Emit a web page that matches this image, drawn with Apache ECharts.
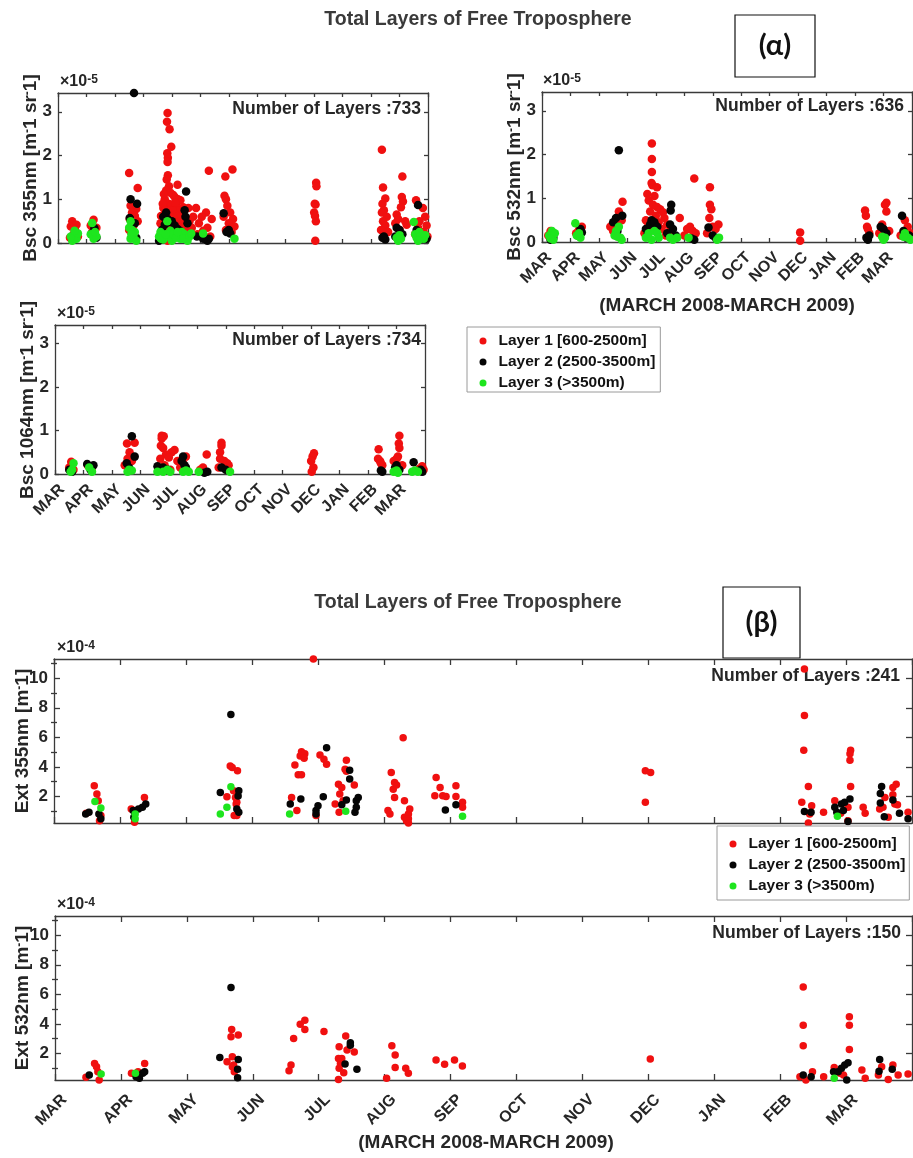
<!DOCTYPE html>
<html>
<head>
<meta charset="utf-8">
<script src="https://cdn.jsdelivr.net/npm/echarts@6/dist/echarts.min.js"></script>
<style>
  html, body { margin: 0; padding: 0; background: #ffffff; }
  #chart { width: 913px; height: 1158px; }
</style>
</head>
<body>
<div id="chart"></div>
<script>
// Month ticks: 0 = start of March 2008 ... 13 = start of April 2009
const months = ['MAR', 'APR', 'MAY', 'JUN', 'JUL', 'AUG', 'SEP', 'OCT', 'NOV', 'DEC', 'JAN', 'FEB', 'MAR'];
const layerNames = ['Layer 1 [600-2500m]', 'Layer 2 (2500-3500m]', 'Layer 3 (>3500m)'];
const layerColors = ['#f01010', '#050505', '#1ee51e'];

// Backscatter, units of 1e-5 m^-1 sr^-1 ; x in months since 1 March 2008
const bsc355Layer1 = [[0.5,0.5],[0.45,0.38],[0.6,0.3],[0.55,0.2],[0.42,0.12],[0.7,0.15],[0.65,0.42],
  [1.25,0.53],[1.15,0.4],[1.35,0.35],[1.2,0.25],[1.3,0.15],
  [2.5,1.6],[2.8,1.26],[2.55,0.85],[2.75,0.78],[2.6,0.7],[2.7,0.62],[2.52,0.55],[2.8,0.5],[2.65,0.4],[2.5,0.3],
  [3.85,2.97],[3.83,2.77],[3.92,2.6],[3.98,2.2],[3.84,2.05],[3.86,1.95],[3.85,1.85],[3.86,1.55],[3.82,1.45],[3.9,1.3],
  [3.8,1.2],[4.2,1.33],[3.95,1.15],[4.05,1.1],[3.75,1.0],[4.1,1.05],[4.3,0.98],[3.88,0.9],[4.0,0.88],[4.15,0.85],
  [4.4,0.82],[3.7,0.8],[4.25,0.75],[3.95,0.72],[4.1,0.65],[4.35,0.6],[3.78,0.6],[4.45,0.55],[4.0,0.5],[3.6,0.45],
  [4.2,0.42],[3.9,0.35],[4.3,0.3],[3.65,0.25],[4.05,0.2],[3.85,0.05],[4.4,0.15],[3.72,1.12],[4.22,1.0],[4.5,0.4],
  [3.62,0.62],[3.68,0.9],[3.76,0.75],[3.92,0.62],[4.02,0.75],[4.08,0.3],[4.12,0.92],[4.18,0.6],[4.28,0.5],
  [4.38,0.4],[4.48,0.28],[4.58,0.8],[4.62,0.5],[4.7,0.35],[4.75,0.6],
  [5.3,1.65],[4.85,0.8],[5.2,0.7],[5.4,0.55],[5.05,0.6],[4.95,0.45],[5.25,0.35],[5.1,0.28],[4.9,0.2],[5.35,0.15],
  [6.13,1.68],[5.88,1.52],[5.85,1.08],[5.9,1.0],[5.95,0.85],[6.05,0.7],[5.82,0.6],[6.15,0.55],[6.0,0.45],[6.2,0.38],[5.9,0.3],[6.1,0.25],
  [9.07,1.38],[9.08,1.3],[9.02,0.9],[9.05,0.88],[9.0,0.7],[9.03,0.62],[9.06,0.5],[9.04,0.05],
  [11.38,2.13],[11.42,1.27],[11.5,1.02],[11.4,0.9],[11.45,0.75],[11.38,0.7],[11.55,0.6],[11.42,0.5],[11.5,0.4],[11.35,0.3],[11.6,0.25],[11.45,0.12],
  [12.1,1.52],[12.08,1.05],[12.12,0.95],[12.05,0.82],[11.9,0.65],[12.2,0.5],[11.85,0.45],[12.25,0.42],[12.0,0.3],[11.95,0.55],
  [12.58,0.98],[12.82,0.8],[12.9,0.6],[12.7,0.5],[12.95,0.4],[12.65,0.35],[12.85,0.25],[12.55,0.2],[12.98,0.15]];
const bsc355Layer2 = [[0.55,0.1],[0.62,0.15],[1.28,0.34],[1.2,0.22],[1.35,0.12],[2.67,3.43],[2.55,1.0],[2.78,0.9],
  [2.52,0.57],[2.7,0.45],[2.6,0.2],[2.75,0.12],[3.55,0.05],[3.7,0.6],[3.8,0.7],[3.85,0.55],[3.9,0.48],[3.75,0.42],
  [4.0,0.5],[4.1,0.4],[4.2,0.32],[4.28,0.28],[4.5,1.18],[4.45,0.75],[4.48,0.6],[4.55,0.45],[3.65,0.3],[4.35,0.22],
  [4.0,0.18],[4.88,0.15],[5.25,0.05],[5.3,0.1],[5.1,0.1],[5.82,0.68],[6.0,0.3],[6.05,0.22],[5.92,0.25],[11.45,0.15],
  [11.5,0.08],[11.4,0.12],[11.9,0.35],[12.0,0.3],[12.1,0.2],[11.85,0.15],[12.65,0.87],[12.6,0.3],[12.7,0.18],[12.95,0.1],[12.85,0.1]];
const bsc355Layer3 = [[0.5,0.05],[0.55,0.12],[0.6,0.2],[0.65,0.1],[0.45,0.15],[0.7,0.22],[0.58,0.28],[1.2,0.46],
  [1.15,0.2],[1.25,0.1],[1.35,0.15],[1.3,0.25],[2.55,0.5],[2.5,0.35],[2.6,0.3],[2.65,0.15],[2.7,0.25],[2.55,0.1],
  [2.75,0.05],[2.58,0.2],[3.55,0.15],[3.6,0.25],[3.84,0.5],[3.9,0.15],[3.7,0.08],[3.95,0.28],[4.0,0.05],[4.05,0.2],
  [4.25,0.15],[4.3,0.1],[4.35,0.25],[4.45,0.2],[4.5,0.15],[4.55,0.05],[5.1,0.22],[6.2,0.1],[11.9,0.12],[11.95,0.05],
  [3.62,0.1],[3.78,0.2],[4.15,0.12],[4.2,0.25],[4.4,0.1],[4.62,0.15],[4.68,0.22],
  [12.0,0.18],[12.05,0.1],[12.5,0.48],[12.55,0.2],[12.6,0.12],[12.7,0.25],[12.75,0.15],[12.85,0.1],[12.9,0.18],[12.65,0.05]];

const bsc532Layer1 = [[0.3,0.25],[0.22,0.15],[0.4,0.2],[0.35,0.1],[1.4,0.35],[1.3,0.28],[1.2,0.2],[2.83,0.92],[2.7,0.7],
  [2.8,0.5],[2.4,0.35],[2.6,0.4],[2.5,0.25],[3.86,2.25],[3.86,1.9],[3.86,1.6],[3.85,1.35],[3.88,1.3],[4.04,1.25],[3.7,1.1],
  [3.95,1.05],[3.75,0.95],[3.9,0.85],[4.04,0.8],[4.15,0.75],[4.25,0.68],[3.8,0.7],[4.0,0.6],[4.3,0.55],[4.84,0.55],
  [3.65,0.5],[4.1,0.45],[4.4,0.4],[3.72,0.35],[4.2,0.3],[4.5,0.25],[3.6,0.2],[4.35,0.15],[5.35,1.45],[5.2,0.35],
  [5.1,0.3],[5.3,0.25],[5.4,0.2],[5.0,0.15],[5.9,1.25],[5.9,0.85],[5.95,0.75],[5.88,0.55],[6.2,0.4],[6.1,0.3],[6.0,0.35],
  [5.8,0.2],[9.07,0.22],[9.07,0.03],[11.35,0.72],[11.38,0.6],[11.42,0.35],[11.45,0.3],[11.5,0.2],[12.1,0.9],[12.05,0.85],
  [12.1,0.7],[11.95,0.4],[12.2,0.25],[11.85,0.2],[12.75,0.5],[12.85,0.35],[12.95,0.2],[12.6,0.15]];
const bsc532Layer2 = [[0.4,0.1],[0.3,0.05],[1.35,0.3],[1.4,0.22],[1.25,0.15],[2.7,2.1],[2.82,0.6],[2.6,0.55],[2.5,0.45],
  [2.65,0.25],[3.65,0.3],[3.85,0.5],[3.8,0.4],[3.95,0.45],[4.05,0.35],[4.54,0.85],[4.52,0.72],[4.5,0.4],[4.6,0.3],
  [4.4,0.2],[3.7,0.15],[4.7,0.15],[5.35,0.05],[5.25,0.08],[5.85,0.33],[6.0,0.15],[6.1,0.1],[11.4,0.1],[11.45,0.05],
  [11.5,0.15],[11.9,0.35],[12.0,0.3],[12.1,0.2],[12.65,0.6],[12.8,0.1],[12.9,0.15],[12.7,0.25]];
const bsc532Layer3 = [[0.35,0.25],[0.25,0.15],[0.4,0.05],[0.45,0.2],[0.3,0.08],[1.17,0.43],[1.22,0.15],[1.35,0.1],
  [1.3,0.2],[2.7,0.35],[2.6,0.25],[2.55,0.15],[2.75,0.1],[2.8,0.05],[2.65,0.12],[3.65,0.1],[3.75,0.2],[3.95,0.25],
  [4.05,0.2],[4.1,0.1],[3.85,0.05],[4.5,0.1],[4.6,0.05],[4.75,0.1],[5.15,0.1],[6.22,0.1],[6.15,0.05],[11.95,0.12],
  [12.05,0.1],[12.0,0.05],[12.75,0.2],[12.85,0.1],[12.95,0.05],[12.7,0.12]];

const bsc1064Layer1 = [[0.57,0.28],[0.5,0.15],[0.65,0.1],[1.15,0.2],[1.3,0.15],[2.53,0.7],[2.8,0.72],[2.62,0.5],
  [2.45,0.2],[2.7,0.3],[2.55,0.35],[3.75,0.88],[3.82,0.87],[3.75,0.82],[3.72,0.65],[3.8,0.6],[4.2,0.55],[4.1,0.5],
  [3.9,0.45],[4.6,0.4],[4.0,0.38],[3.7,0.35],[4.3,0.3],[4.5,0.25],[3.85,0.2],[4.4,0.15],[4.05,0.1],[5.33,0.45],
  [5.2,0.15],[5.1,0.1],[5.85,0.72],[5.85,0.65],[5.8,0.5],[5.8,0.35],[5.95,0.3],[6.05,0.25],[6.1,0.2],[5.75,0.15],
  [9.1,0.48],[9.05,0.4],[9.0,0.3],[9.08,0.15],[9.02,0.05],[11.37,0.57],[11.35,0.35],[11.42,0.3],[11.5,0.2],[11.45,0.25],
  [12.1,0.88],[12.08,0.7],[12.1,0.6],[12.05,0.4],[12.0,0.35],[11.9,0.3],[12.2,0.2],[12.9,0.18],[12.8,0.12],[12.95,0.1]];
const bsc1064Layer2 = [[0.5,0.1],[0.6,0.05],[1.13,0.23],[1.35,0.2],[1.25,0.1],[2.7,0.87],[2.8,0.4],[2.52,0.25],
  [2.6,0.15],[3.6,0.18],[3.8,0.15],[4.5,0.4],[4.45,0.3],[4.55,0.2],[4.6,0.15],[3.95,0.1],[5.35,0.05],[5.25,0.03],
  [5.85,0.15],[6.0,0.1],[11.5,0.05],[11.45,0.08],[12.0,0.2],[11.95,0.15],[12.1,0.1],[12.6,0.27],[12.85,0.1],[12.9,0.05]];
const bsc1064Layer3 = [[0.65,0.25],[0.6,0.1],[0.55,0.05],[1.2,0.15],[1.3,0.05],[2.6,0.1],[2.55,0.05],[2.7,0.08],
  [3.6,0.05],[3.8,0.05],[3.95,0.1],[4.05,0.05],[4.5,0.05],[4.6,0.08],[4.7,0.05],[5.05,0.05],[6.15,0.05],[11.9,0.05],
  [12.0,0.08],[12.05,0.03],[12.65,0.08],[12.75,0.05],[12.55,0.05]];

// Extinction, units of 1e-4 m^-1
const ext355Layer1 = [[0.49,0.86],[0.61,2.72],[0.65,2.16],[0.67,1.71],[0.71,0.7],[0.69,0.36],
  [1.17,1.15],[1.22,0.25],[1.37,1.93],
  [2.62,1.98],[2.67,4.06],[2.7,3.95],[2.78,3.73],[2.72,2.38],[2.75,1.93],[2.77,1.6],[2.73,0.7],[2.77,0.7],[2.76,1.48],
  [3.6,1.93],[3.65,4.13],[3.68,1.04],[3.7,3.46],[3.75,3.46],[3.73,4.74],[3.75,5.03],[3.8,4.89],[3.79,4.58],[3.93,11.3],
  [3.97,0.7],[4.03,4.8],[4.09,4.51],[4.13,4.17],[4.43,4.44],[4.41,3.84],[4.31,2.83],[4.36,2.6],[4.33,2.16],[4.26,1.48],
  [4.32,0.92],[4.38,1.71],[4.55,2.78],[4.43,3.7],
  [5.06,1.04],[5.09,0.81],[5.11,3.61],[5.14,2.49],[5.19,2.78],[5.16,2.94],[5.16,1.93],[5.29,5.97],[5.31,1.71],[5.31,0.59],
  [5.37,0.81],[5.37,0.48],[5.34,0.36],[5.37,0.2],[5.39,1.15],
  [5.79,3.28],[5.77,2.04],[5.85,2.6],[5.89,2.04],[5.94,2.0],[6.09,2.72],[6.09,2.0],[6.19,1.6],[6.19,1.26],
  [8.96,3.73],[9.04,3.61],[8.96,1.6],
  [11.37,10.63],[11.37,7.47],[11.36,5.12],[11.43,2.67],[11.33,1.6],[11.48,1.37],[11.45,0.81],[11.43,0.2],[11.66,0.92],
  [11.83,1.71],[11.92,0.86],[12.03,0.36],[12.07,5.12],[12.06,4.89],[12.06,4.44],[12.07,2.67],[12.03,1.26],[12.26,1.26],
  [12.29,0.86],[12.51,1.15],[12.59,1.93],[12.56,1.26],[12.64,0.59],[12.71,2.6],[12.76,2.83],[12.74,1.48],[12.78,1.44],
  [12.71,2.11],[12.94,0.92]];
const ext355Layer2 = [[0.48,0.81],[0.53,0.92],[0.68,0.81],[0.71,0.48],[1.2,1.04],[1.21,0.59],[1.28,1.15],[1.34,1.26],
  [1.39,1.48],[2.52,2.27],[2.68,7.54],[2.79,2.02],[2.77,1.15],[2.8,0.92],[2.8,2.38],
  [3.58,1.48],[3.74,1.82],[3.97,1.04],[3.97,0.81],[4.0,1.37],[4.08,1.98],[4.13,5.3],[4.48,3.77],[4.48,3.17],[4.36,1.44],
  [4.43,1.75],[4.56,0.92],[4.58,1.26],[4.58,1.71],[4.61,1.93],[5.93,1.08],[6.09,1.44],
  [11.37,0.97],[11.47,0.92],[11.83,1.26],[11.86,0.92],[11.93,1.48],[11.98,1.6],[12.03,0.3],[12.06,1.82],[11.96,1.04],
  [12.54,2.67],[12.52,2.2],[12.52,1.55],[12.58,0.63],[12.71,1.75],[12.81,0.86],[12.94,0.48]];
const ext355Layer3 = [[0.62,1.66],[0.71,1.22],[1.23,0.81],[1.23,0.48],[2.52,0.81],[2.62,1.26],[2.68,2.65],[3.57,0.81],
  [4.42,0.99],[6.19,0.65],[11.87,0.65]];

const ext532Layer1 = [[0.47,0.38],[0.6,1.32],[0.63,1.1],[0.65,0.76],[0.67,0.2],[1.16,0.65],[1.26,0.76],[1.36,1.32],
  [2.68,3.62],[2.67,3.13],[2.78,3.24],[2.61,1.44],[2.69,1.77],[2.71,1.21],[2.72,0.76],[2.69,1.1],
  [3.55,0.83],[3.58,1.21],[3.62,3.01],[3.72,3.98],[3.79,4.25],[3.79,3.62],[4.08,3.49],[4.31,2.45],[4.3,1.66],[4.33,1.32],
  [4.31,0.99],[4.35,1.66],[4.38,0.69],[4.3,0.24],[4.41,3.17],[4.43,2.23],[4.54,2.09],
  [5.03,0.31],[5.11,2.52],[5.16,1.89],[5.16,1.05],[5.32,0.99],[5.36,0.65],
  [5.78,1.55],[5.91,1.26],[6.06,1.55],[6.18,1.14],[9.03,1.62],
  [11.35,6.5],[11.35,3.91],[11.35,2.52],[11.3,0.42],[11.39,0.2],[11.49,0.76],[11.66,0.42],[11.82,1.05],[12.05,4.48],
  [12.05,3.91],[12.05,2.27],[11.91,0.65],[11.96,0.54],[12.24,0.88],[12.29,0.31],[12.49,0.54],[12.54,1.1],[12.64,0.24],
  [12.71,1.21],[12.79,0.54],[12.94,0.6]];
const ext532Layer2 = [[0.52,0.54],[1.23,0.42],[1.28,0.31],[1.33,0.65],[1.36,0.76],[2.5,1.73],[2.67,6.46],[2.78,1.59],
  [2.77,0.92],[2.77,0.36],[4.4,1.28],[4.48,2.72],[4.48,2.56],[4.58,0.92],
  [11.35,0.54],[11.47,0.42],[11.81,0.76],[11.88,0.76],[11.93,0.99],[11.98,1.21],[12.03,1.37],[12.01,0.2],[12.51,1.59],
  [12.5,0.8],[12.7,0.92]];
const ext532Layer3 = [[0.7,0.6],[1.22,0.65],[11.82,0.31]];

// Tick values
const bscTicks = [0, 1, 2, 3];
const extTicks = [2, 4, 6, 8, 10];
const extMinorTicks = [1, 3, 5, 7, 9, 11];

const FONT = '"Liberation Sans", Arial, Helvetica, sans-serif';
const INK = '#262626';
const AXIS = '#3a3a3a';

const panels = [
  { grid: { left: 58, top: 93, width: 370, height: 150 }, yMin: 0, yMax: 3.43, majors: bscTicks, minors: null,
    xLabels: false, series: [bsc355Layer1, bsc355Layer2, bsc355Layer3], size: 8.5, xTick: 4, yTick: 4, lh: 20, margin: 6 },
  { grid: { left: 542, top: 92, width: 370, height: 150 }, yMin: 0, yMax: 3.43, majors: bscTicks, minors: null,
    xLabels: true, series: [bsc532Layer1, bsc532Layer2, bsc532Layer3], size: 8.5, xTick: 4, yTick: 4, lh: 20, margin: 6 },
  { grid: { left: 55, top: 325, width: 370, height: 149 }, yMin: 0, yMax: 3.43, majors: bscTicks, minors: null,
    xLabels: true, series: [bsc1064Layer1, bsc1064Layer2, bsc1064Layer3], size: 8.5, xTick: 4, yTick: 4, lh: 20, margin: 6 },
  { grid: { left: 54, top: 659, width: 858, height: 164 }, yMin: 0.2, yMax: 11.3, majors: extTicks, minors: extMinorTicks,
    xLabels: false, series: [ext355Layer1, ext355Layer2, ext355Layer3], size: 7.5, xTick: 6, yTick: 6, lh: 26, margin: 8 },
  { grid: { left: 55, top: 916, width: 857, height: 164 }, yMin: 0.2, yMax: 11.3, majors: extTicks, minors: extMinorTicks,
    xLabels: true, series: [ext532Layer1, ext532Layer2, ext532Layer3], size: 7.5, xTick: 6, yTick: 6, lh: 26, margin: 8 }
];

const lineStyle = { color: AXIS, width: 1.3 };
const grids = [], xAxes = [], yAxes = [], series = [];

panels.forEach((p, gi) => {
  grids.push(Object.assign({ containLabel: false, outerBoundsMode: 'none' }, p.grid));
  ['bottom', 'top'].forEach(pos => {
    xAxes.push({
      type: 'value', gridIndex: gi, position: pos, min: 0, max: 13, interval: 1,
      axisLine: { show: true, onZero: false, lineStyle },
      axisTick: { show: true, inside: true, length: p.xTick, lineStyle },
      axisLabel: {
        show: pos === 'bottom' && p.xLabels, rotate: 45, margin: p.margin,
        verticalAlign: 'top', lineHeight: p.lh,
        fontFamily: FONT, fontSize: 16, fontWeight: 'bold', color: INK,
        formatter: v => months[Math.round(v)] || ''
      },
      splitLine: { show: false }
    });
  });
  const firstY = yAxes.length;
  ['left', 'right'].forEach(pos => {
    yAxes.push({
      type: 'value', gridIndex: gi, position: pos, min: p.yMin, max: p.yMax,
      axisLine: { show: true, onZero: false, lineStyle },
      axisTick: { show: true, inside: true, length: p.yTick, lineStyle, customValues: p.majors },
      axisLabel: {
        show: pos === 'left', customValues: p.majors, margin: 6,
        fontFamily: FONT, fontSize: 17, fontWeight: 'bold', color: INK
      },
      splitLine: { show: false }
    });
    if (p.minors) {
      yAxes.push({
        type: 'value', gridIndex: gi, position: pos, min: p.yMin, max: p.yMax,
        axisLine: { show: false },
        axisTick: { show: true, inside: true, length: 3, lineStyle, customValues: p.minors },
        axisLabel: { show: false },
        splitLine: { show: false }
      });
    }
  });
  p.series.forEach((data, li) => {
    series.push({
      type: 'scatter', name: layerNames[li], xAxisIndex: gi * 2, yAxisIndex: firstY,
      data: data, symbol: 'circle', symbolSize: p.size,
      itemStyle: { color: layerColors[li], opacity: 1 },
      emphasis: { disabled: true }, animation: false
    });
  });
});

const legendBase = {
  orient: 'vertical', data: layerNames, icon: 'circle', itemWidth: 7, itemHeight: 7, itemGap: 5,
  borderColor: '#9a9a9a', borderWidth: 1, backgroundColor: '#ffffff', borderRadius: 0,
  textStyle: { fontFamily: FONT, fontSize: 15.5, fontWeight: 'bold', color: '#111111', padding: [0, 0, 0, 7] }
};

function label(text, x, y, size, extra) {
  return Object.assign({
    type: 'text', x, y, silent: true,
    style: Object.assign({ text, font: 'bold ' + size + 'px ' + FONT, fill: INK, align: 'center', verticalAlign: 'middle' }, extra || {})
  });
}
function yLabel(text, x, y) {
  return {
    type: 'text', x, y, rotation: Math.PI / 2, silent: true,
    style: {
      text, fill: INK, align: 'center', verticalAlign: 'middle',
      font: 'bold 19px ' + FONT,
      rich: { s: { fontFamily: FONT, fontWeight: 'bold', fontSize: 12, fill: INK, verticalAlign: 'top', lineHeight: 19 } }
    }
  };
}
function expLabel(text, x, y) {
  return {
    type: 'text', x, y, silent: true,
    style: {
      text: '×10{s|' + text + '}', fill: INK, align: 'left', verticalAlign: 'middle',
      font: 'bold 16px ' + FONT,
      rich: { s: { fontFamily: FONT, fontWeight: 'bold', fontSize: 12, fill: INK, verticalAlign: 'top', lineHeight: 16 } }
    }
  };
}
function tagBox(text, x, y, w, h) {
  return [
    { type: 'rect', shape: { x, y, width: w, height: h }, silent: true,
      style: { fill: '#ffffff', stroke: '#111111', lineWidth: 1.2 } },
    { type: 'text', x: x + w / 2, y: y + h / 2, silent: true,
      style: { text, font: 'bold 29px Lato, "Open Sans", sans-serif', fill: '#111111', align: 'center', verticalAlign: 'middle' } }
  ];
}

const graphics = [
  label('Total Layers of Free Troposphere', 478, 20, 19.5, { fill: '#3a3a3a' }),
  label('Total Layers of Free Troposphere', 468, 603, 19.5, { fill: '#3a3a3a' }),
  ...tagBox('(α)', 735, 15, 80, 62),
  ...tagBox('(β)', 723, 587, 77, 71),
  label('Number of Layers :733', 421, 109, 17.5, { align: 'right' }),
  label('Number of Layers :636', 904, 106, 17.5, { align: 'right' }),
  label('Number of Layers :734', 421, 340, 17.5, { align: 'right' }),
  label('Number of Layers :241', 900, 676, 17.5, { align: 'right' }),
  label('Number of Layers :150', 901, 933, 17.5, { align: 'right' }),
  yLabel('Bsc 355nm [m{s|-}1 sr{s|-}1]', 31, 168),
  yLabel('Bsc 532nm [m{s|-}1 sr{s|-}1]', 515, 167),
  yLabel('Bsc 1064nm [m{s|-}1 sr{s|-}1]', 28, 400),
  yLabel('Ext 355nm [m{s|-}1]', 23, 741),
  yLabel('Ext 532nm [m{s|-}1]', 23, 998),
  expLabel('-5', 60, 82),
  expLabel('-5', 543, 81),
  expLabel('-5', 57, 314),
  expLabel('-4', 57, 648),
  expLabel('-4', 57, 905),
  label('(MARCH 2008-MARCH 2009)', 727, 306, 19),
  label('(MARCH 2008-MARCH 2009)', 486, 1143, 19)
];

const chart = echarts.init(document.getElementById('chart'), null, { renderer: 'canvas', width: 913, height: 1158 });
chart.setOption({
  backgroundColor: '#ffffff',
  animation: false,
  grid: grids,
  xAxis: xAxes,
  yAxis: yAxes,
  series: series,
  legend: [
    Object.assign({}, legendBase, { left: 467, top: 327, padding: [6, 5, 1, 12.5] }),
    Object.assign({}, legendBase, { left: 717, top: 826, padding: [10, 4, 6, 12.5] })
  ],
  graphic: graphics
});
</script>
</body>
</html>
